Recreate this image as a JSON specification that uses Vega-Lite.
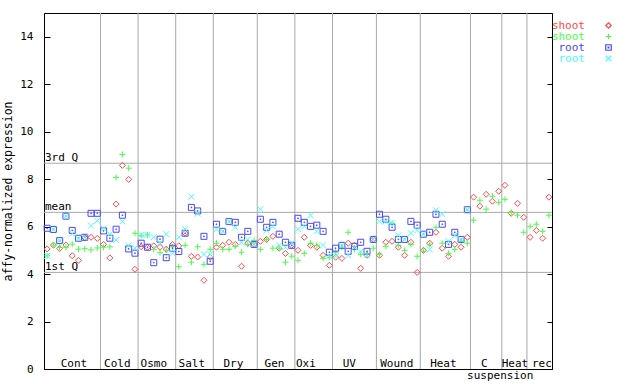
{
  "$schema": "https://vega.github.io/schema/vega-lite/v6.json",
  "width": 508,
  "height": 356,
  "autosize": {"type": "none"},
  "padding": {"left": 44, "top": 13, "right": 88, "bottom": 15},
  "background": "white",
  "config": {
    "view": {"stroke": "black", "strokeWidth": 1},
    "font": "DejaVu Sans Mono",
    "axis": {"grid": false, "domainColor": "black", "tickColor": "black", "labelColor": "black", "titleColor": "black", "labelFont": "DejaVu Sans Mono", "titleFont": "DejaVu Sans Mono", "labelFontSize": 11, "titleFontSize": 11.5, "titleFontWeight": "normal", "labelFlush": false, "labelOverlap": false}
  },
  "datasets": {
    "bounds": [{"b": 8.5}, {"b": 14.5}, {"b": 20.5}, {"b": 26.5}, {"b": 33.5}, {"b": 39.5}, {"b": 45.5}, {"b": 52.5}, {"b": 59.5}, {"b": 67.5}, {"b": 72.5}, {"b": 76.5}],
    "refs": [{"t": "3rd Q", "v": 8.67}, {"t": "mean", "v": 6.6}, {"t": "1st Q", "v": 4.07}],
    "groups": [
      {"t": "Cont", "p": 4.28, "l": 1}, {"t": "Cold", "p": 11.19, "l": 1}, {"t": "Osmo", "p": 17.01, "l": 1},
      {"t": "Salt", "p": 23.06, "l": 1}, {"t": "Dry", "p": 29.69, "l": 1}, {"t": "Gen", "p": 36.26, "l": 1},
      {"t": "Oxi", "p": 41.25, "l": 1}, {"t": "UV", "p": 48.18, "l": 1}, {"t": "Wound", "p": 55.75, "l": 1},
      {"t": "Heat", "p": 63.18, "l": 1}, {"t": "C", "p": 69.71, "l": 1}, {"t": "suspension", "p": 72.23, "l": 2},
      {"t": "Heat", "p": 74.59, "l": 1}, {"t": "rec", "p": 78.88, "l": 1}
    ],
    "pts": [
      {"c":0,"s":"shoot1","v":5.06},{"c":1,"s":"shoot1","v":5.22},{"c":2,"s":"shoot1","v":5.08},{"c":3,"s":"shoot1","v":5.22},{"c":4,"s":"shoot1","v":4.77},{"c":5,"s":"shoot1","v":4.58},{"c":6,"s":"shoot1","v":5.53},{"c":7,"s":"shoot1","v":5.55},{"c":8,"s":"shoot1","v":5.5},
      {"c":9,"s":"shoot1","v":5.25},{"c":10,"s":"shoot1","v":4.68},{"c":11,"s":"shoot1","v":6.95},{"c":12,"s":"shoot1","v":8.58},{"c":13,"s":"shoot1","v":7.99},{"c":14,"s":"shoot1","v":4.2},
      {"c":15,"s":"shoot1","v":5.15},{"c":16,"s":"shoot1","v":5.13},{"c":17,"s":"shoot1","v":5.19},{"c":18,"s":"shoot1","v":5.13},{"c":19,"s":"shoot1","v":5.05},{"c":20,"s":"shoot1","v":5.25},
      {"c":21,"s":"shoot1","v":5.19},{"c":22,"s":"shoot1","v":5.72},{"c":23,"s":"shoot1","v":4.75},{"c":24,"s":"shoot1","v":4.72},{"c":25,"s":"shoot1","v":3.74},{"c":26,"s":"shoot1","v":4.71},
      {"c":27,"s":"shoot1","v":5.13},{"c":28,"s":"shoot1","v":5.21},{"c":29,"s":"shoot1","v":5.34},{"c":30,"s":"shoot1","v":5.25},{"c":31,"s":"shoot1","v":4.33},{"c":32,"s":"shoot1","v":5.3},{"c":33,"s":"shoot1","v":5.25},
      {"c":34,"s":"shoot1","v":5.38},{"c":35,"s":"shoot1","v":5.46},{"c":36,"s":"shoot1","v":5.59},{"c":37,"s":"shoot1","v":5.09},{"c":38,"s":"shoot1","v":4.87},{"c":39,"s":"shoot1","v":5.21},
      {"c":40,"s":"shoot1","v":5.0},{"c":41,"s":"shoot1","v":5.55},{"c":42,"s":"shoot1","v":5.21},{"c":43,"s":"shoot1","v":5.13},{"c":44,"s":"shoot1","v":4.79},{"c":45,"s":"shoot1","v":4.37},
      {"c":46,"s":"shoot1","v":4.71},{"c":47,"s":"shoot1","v":4.66},{"c":48,"s":"shoot1","v":5.3},{"c":49,"s":"shoot1","v":5.21},{"c":50,"s":"shoot1","v":4.24},{"c":51,"s":"shoot1","v":4.79},{"c":52,"s":"shoot1","v":5.46},
      {"c":53,"s":"shoot1","v":4.79},{"c":54,"s":"shoot1","v":5.34},{"c":55,"s":"shoot1","v":5.38},{"c":56,"s":"shoot1","v":5.13},{"c":57,"s":"shoot1","v":4.79},{"c":58,"s":"shoot1","v":5.34},{"c":59,"s":"shoot1","v":4.07},
      {"c":60,"s":"shoot1","v":5.0},{"c":61,"s":"shoot1","v":5.3},{"c":62,"s":"shoot1","v":5.76},{"c":63,"s":"shoot1","v":5.09},{"c":64,"s":"shoot1","v":4.75},{"c":65,"s":"shoot1","v":5.25},{"c":66,"s":"shoot1","v":5.13},{"c":67,"s":"shoot1","v":5.55},
      {"c":68,"s":"shoot1","v":7.24},{"c":69,"s":"shoot1","v":6.86},{"c":70,"s":"shoot1","v":7.36},{"c":71,"s":"shoot1","v":7.07},{"c":72,"s":"shoot1","v":7.49},
      {"c":73,"s":"shoot1","v":7.74},{"c":74,"s":"shoot1","v":6.56},{"c":75,"s":"shoot1","v":6.98},{"c":76,"s":"shoot1","v":6.39},
      {"c":77,"s":"shoot1","v":5.55},{"c":78,"s":"shoot1","v":5.84},{"c":79,"s":"shoot1","v":5.51},{"c":80,"s":"shoot1","v":7.24},

      {"c":0,"s":"shoot2","v":4.77},{"c":1,"s":"shoot2","v":5.22},{"c":2,"s":"shoot2","v":5.12},{"c":3,"s":"shoot2","v":5.13},{"c":4,"s":"shoot2","v":5.26},{"c":5,"s":"shoot2","v":5.05},{"c":6,"s":"shoot2","v":5.07},{"c":7,"s":"shoot2","v":5.02},{"c":8,"s":"shoot2","v":5.1},
      {"c":9,"s":"shoot2","v":5.13},{"c":10,"s":"shoot2","v":5.15},{"c":11,"s":"shoot2","v":8.07},{"c":12,"s":"shoot2","v":9.04},{"c":13,"s":"shoot2","v":8.46},{"c":14,"s":"shoot2","v":5.72},
      {"c":15,"s":"shoot2","v":5.62},{"c":16,"s":"shoot2","v":5.65},{"c":17,"s":"shoot2","v":5.04},{"c":18,"s":"shoot2","v":4.9},{"c":19,"s":"shoot2","v":5.01},{"c":20,"s":"shoot2","v":5.15},
      {"c":21,"s":"shoot2","v":4.31},{"c":22,"s":"shoot2","v":5.21},{"c":23,"s":"shoot2","v":4.5},{"c":24,"s":"shoot2","v":5.15},{"c":25,"s":"shoot2","v":4.41},{"c":26,"s":"shoot2","v":5.04},
      {"c":27,"s":"shoot2","v":5.3},{"c":28,"s":"shoot2","v":5.04},{"c":29,"s":"shoot2","v":5.04},{"c":30,"s":"shoot2","v":5.17},{"c":31,"s":"shoot2","v":4.92},{"c":32,"s":"shoot2","v":5.25},{"c":33,"s":"shoot2","v":5.42},
      {"c":34,"s":"shoot2","v":5.04},{"c":35,"s":"shoot2","v":5.46},{"c":36,"s":"shoot2","v":5.09},{"c":37,"s":"shoot2","v":5.09},{"c":38,"s":"shoot2","v":4.5},{"c":39,"s":"shoot2","v":4.75},
      {"c":40,"s":"shoot2","v":4.58},{"c":41,"s":"shoot2","v":4.87},{"c":42,"s":"shoot2","v":5.3},{"c":43,"s":"shoot2","v":5.21},{"c":44,"s":"shoot2","v":4.66},{"c":45,"s":"shoot2","v":4.71},
      {"c":46,"s":"shoot2","v":4.92},{"c":47,"s":"shoot2","v":5.13},{"c":48,"s":"shoot2","v":5.76},{"c":49,"s":"shoot2","v":5.04},{"c":50,"s":"shoot2","v":4.83},{"c":51,"s":"shoot2","v":4.83},{"c":52,"s":"shoot2","v":5.09},
      {"c":53,"s":"shoot2","v":4.83},{"c":54,"s":"shoot2","v":5.17},{"c":55,"s":"shoot2","v":6.14},{"c":56,"s":"shoot2","v":5.21},{"c":57,"s":"shoot2","v":5.0},{"c":58,"s":"shoot2","v":5.25},{"c":59,"s":"shoot2","v":4.75},
      {"c":60,"s":"shoot2","v":4.96},{"c":61,"s":"shoot2","v":5.25},{"c":62,"s":"shoot2","v":5.97},{"c":63,"s":"shoot2","v":5.3},{"c":64,"s":"shoot2","v":4.87},{"c":65,"s":"shoot2","v":5.04},{"c":66,"s":"shoot2","v":5.38},{"c":67,"s":"shoot2","v":5.3},
      {"c":68,"s":"shoot2","v":6.27},{"c":69,"s":"shoot2","v":7.11},{"c":70,"s":"shoot2","v":6.73},{"c":71,"s":"shoot2","v":7.28},{"c":72,"s":"shoot2","v":7.02},
      {"c":73,"s":"shoot2","v":7.15},{"c":74,"s":"shoot2","v":6.6},{"c":75,"s":"shoot2","v":6.48},{"c":76,"s":"shoot2","v":5.76},
      {"c":77,"s":"shoot2","v":6.01},{"c":78,"s":"shoot2","v":6.1},{"c":79,"s":"shoot2","v":5.8},{"c":80,"s":"shoot2","v":6.48},

      {"c":0,"s":"root1","v":5.93},{"c":1,"s":"root1","v":5.88},{"c":2,"s":"root1","v":5.41},{"c":3,"s":"root1","v":6.44},{"c":4,"s":"root1","v":5.84},{"c":5,"s":"root1","v":5.51},{"c":6,"s":"root1","v":5.55},{"c":7,"s":"root1","v":6.56},{"c":8,"s":"root1","v":6.56},
      {"c":9,"s":"root1","v":5.82},{"c":10,"s":"root1","v":5.51},{"c":11,"s":"root1","v":5.89},{"c":12,"s":"root1","v":6.48},{"c":13,"s":"root1","v":5.06},{"c":14,"s":"root1","v":4.88},
      {"c":15,"s":"root1","v":5.3},{"c":16,"s":"root1","v":5.13},{"c":17,"s":"root1","v":4.48},{"c":18,"s":"root1","v":5.47},{"c":19,"s":"root1","v":4.69},{"c":20,"s":"root1","v":5.09},
      {"c":21,"s":"root1","v":4.95},{"c":22,"s":"root1","v":5.72},{"c":23,"s":"root1","v":6.81},{"c":24,"s":"root1","v":6.66},{"c":25,"s":"root1","v":5.59},{"c":26,"s":"root1","v":4.54},
      {"c":27,"s":"root1","v":6.1},{"c":28,"s":"root1","v":5.8},{"c":29,"s":"root1","v":6.21},{"c":30,"s":"root1","v":6.18},{"c":31,"s":"root1","v":5.55},{"c":32,"s":"root1","v":5.8},{"c":33,"s":"root1","v":5.25},
      {"c":34,"s":"root1","v":6.31},{"c":35,"s":"root1","v":5.97},{"c":36,"s":"root1","v":6.18},{"c":37,"s":"root1","v":5.68},{"c":38,"s":"root1","v":5.34},{"c":39,"s":"root1","v":5.21},
      {"c":40,"s":"root1","v":6.35},{"c":41,"s":"root1","v":6.18},{"c":42,"s":"root1","v":6.01},{"c":43,"s":"root1","v":6.06},{"c":44,"s":"root1","v":5.8},{"c":45,"s":"root1","v":4.92},
      {"c":46,"s":"root1","v":5.09},{"c":47,"s":"root1","v":5.21},{"c":48,"s":"root1","v":4.96},{"c":49,"s":"root1","v":5.17},{"c":50,"s":"root1","v":5.34},{"c":51,"s":"root1","v":4.96},{"c":52,"s":"root1","v":5.46},
      {"c":53,"s":"root1","v":6.52},{"c":54,"s":"root1","v":6.31},{"c":55,"s":"root1","v":5.97},{"c":56,"s":"root1","v":5.46},{"c":57,"s":"root1","v":5.46},{"c":58,"s":"root1","v":6.22},{"c":59,"s":"root1","v":6.06},
      {"c":60,"s":"root1","v":5.68},{"c":61,"s":"root1","v":5.76},{"c":62,"s":"root1","v":6.52},{"c":63,"s":"root1","v":6.1},{"c":64,"s":"root1","v":5.25},{"c":65,"s":"root1","v":5.76},{"c":66,"s":"root1","v":5.46},{"c":67,"s":"root1","v":6.71},

      {"c":0,"s":"root2","v":4.77},{"c":1,"s":"root2","v":5.88},{"c":2,"s":"root2","v":5.41},{"c":3,"s":"root2","v":6.44},{"c":4,"s":"root2","v":5.7},{"c":5,"s":"root2","v":5.51},{"c":6,"s":"root2","v":5.55},{"c":7,"s":"root2","v":6.04},{"c":8,"s":"root2","v":6.25},
      {"c":9,"s":"root2","v":5.93},{"c":10,"s":"root2","v":5.68},{"c":11,"s":"root2","v":5.44},{"c":12,"s":"root2","v":6.22},{"c":13,"s":"root2","v":5.21},{"c":14,"s":"root2","v":5.09},
      {"c":15,"s":"root2","v":5.65},{"c":16,"s":"root2","v":5.65},{"c":17,"s":"root2","v":5.55},{"c":18,"s":"root2","v":5.3},{"c":19,"s":"root2","v":5.68},{"c":20,"s":"root2","v":4.88},
      {"c":21,"s":"root2","v":5.55},{"c":22,"s":"root2","v":5.89},{"c":23,"s":"root2","v":7.26},{"c":24,"s":"root2","v":6.55},{"c":25,"s":"root2","v":4.83},{"c":26,"s":"root2","v":4.83},
      {"c":27,"s":"root2","v":5.89},{"c":28,"s":"root2","v":5.8},{"c":29,"s":"root2","v":6.21},{"c":30,"s":"root2","v":5.97},{"c":31,"s":"root2","v":5.34},{"c":32,"s":"root2","v":5.46},{"c":33,"s":"root2","v":5.25},
      {"c":34,"s":"root2","v":6.73},{"c":35,"s":"root2","v":5.84},{"c":36,"s":"root2","v":6.01},{"c":37,"s":"root2","v":5.21},{"c":38,"s":"root2","v":5.13},{"c":39,"s":"root2","v":5.3},
      {"c":40,"s":"root2","v":5.89},{"c":41,"s":"root2","v":6.01},{"c":42,"s":"root2","v":6.48},{"c":43,"s":"root2","v":5.8},{"c":44,"s":"root2","v":5.21},{"c":45,"s":"root2","v":4.75},
      {"c":46,"s":"root2","v":4.75},{"c":47,"s":"root2","v":5.21},{"c":48,"s":"root2","v":4.79},{"c":49,"s":"root2","v":5.13},{"c":50,"s":"root2","v":4.96},{"c":51,"s":"root2","v":4.79},{"c":52,"s":"root2","v":5.46},
      {"c":53,"s":"root2","v":6.22},{"c":54,"s":"root2","v":6.22},{"c":55,"s":"root2","v":6.14},{"c":56,"s":"root2","v":5.63},{"c":57,"s":"root2","v":5.46},{"c":58,"s":"root2","v":5.72},{"c":59,"s":"root2","v":5.84},
      {"c":60,"s":"root2","v":5.68},{"c":61,"s":"root2","v":5.04},{"c":62,"s":"root2","v":6.69},{"c":63,"s":"root2","v":6.52},{"c":64,"s":"root2","v":5.38},{"c":65,"s":"root2","v":5.63},{"c":66,"s":"root2","v":5.46},{"c":67,"s":"root2","v":6.71}
    ]
  },
  "layer": [
    {
      "data": {"name": "bounds"},
      "mark": {"type": "rule", "color": "#a8a8a8", "strokeWidth": 1},
      "encoding": {
        "x": {"field": "b", "type": "quantitative", "scale": {"domain": [-0.5, 80.5], "nice": false, "zero": false}, "axis": null}
      }
    },
    {
      "data": {"name": "refs"},
      "mark": {"type": "rule", "color": "#a8a8a8", "strokeWidth": 1},
      "encoding": {
        "y": {"field": "v", "type": "quantitative", "scale": {"domain": [0, 15], "nice": false, "zero": false},
              "axis": {"orient": "right", "values": [0, 2, 4, 6, 8, 10, 12, 14], "tickSize": -5, "labels": false, "title": null}}
      }
    },
    {
      "data": {"name": "refs"},
      "mark": {"type": "text", "align": "left", "baseline": "alphabetic", "dx": 1, "dy": -2, "fontSize": 11, "color": "black"},
      "encoding": {
        "x": {"datum": -0.5, "type": "quantitative", "scale": {"domain": [-0.5, 80.5], "nice": false, "zero": false}},
        "y": {"field": "v", "type": "quantitative", "scale": {"domain": [0, 15], "nice": false, "zero": false}, "axis": null},
        "text": {"field": "t"}
      }
    },
    {
      "data": {"name": "groups"},
      "transform": [{"filter": "datum.l == 1"}],
      "mark": {"type": "text", "align": "center", "baseline": "alphabetic", "dy": -2, "fontSize": 11, "color": "black"},
      "encoding": {
        "x": {"field": "p", "type": "quantitative", "scale": {"domain": [-0.5, 80.5], "nice": false, "zero": false}},
        "y": {"datum": 0, "type": "quantitative", "scale": {"domain": [0, 15], "nice": false, "zero": false}, "axis": null},
        "text": {"field": "t"}
      }
    },
    {
      "data": {"name": "groups"},
      "transform": [{"filter": "datum.l == 2"}],
      "mark": {"type": "text", "align": "center", "baseline": "alphabetic", "dy": 10, "fontSize": 11, "color": "black"},
      "encoding": {
        "x": {"field": "p", "type": "quantitative", "scale": {"domain": [-0.5, 80.5], "nice": false, "zero": false}},
        "y": {"datum": 0, "type": "quantitative", "scale": {"domain": [0, 15], "nice": false, "zero": false}, "axis": null},
        "text": {"field": "t"}
      }
    },
    {
      "data": {"name": "pts"},
      "mark": {"type": "point", "filled": false, "strokeWidth": 1, "opacity": 1, "size": 36},
      "encoding": {
        "x": {"field": "c", "type": "quantitative", "scale": {"domain": [-0.5, 80.5], "nice": false, "zero": false}},
        "y": {"field": "v", "type": "quantitative", "scale": {"domain": [0, 15], "nice": false, "zero": false},
              "axis": {"orient": "left", "values": [0, 2, 4, 6, 8, 10, 12, 14], "tickSize": -6, "labelPadding": 17, "title": "affy-normalized expression", "titlePadding": 6}},
        "color": {"field": "s", "type": "nominal",
                  "scale": {"domain": ["shoot1", "shoot2", "root1", "root2"], "range": ["#ff4848", "#48ff48", "#4848ff", "#48ffff"]},
                  "legend": {"title": null, "orient": "none", "legendX": 559, "legendY": 7, "padding": 0, "rowPadding": -1.3, "symbolSize": 30, "symbolStrokeWidth": 1.2, "labelFont": "DejaVu Sans Mono", "labelFontSize": 11, "labelAlign": "right", "labelOffset": -29, "labelExpr": "indexof(datum.label, 'shoot') >= 0 ? 'shoot' : 'root'", "labelColor": {"expr": "datum.value == 'shoot1' ? '#ff4848' : datum.value == 'shoot2' ? '#48ff48' : datum.value == 'root1' ? '#4848ff' : '#48ffff'"}}},
        "shape": {"field": "s", "type": "nominal",
                  "scale": {"domain": ["shoot1", "shoot2", "root1", "root2"], "range": ["M0,-1L1,0L0,1L-1,0Z", "M-1,0H1M0,-1V1", "M-1,-1H1V1H-1ZM-0.12,-0.12H0.12V0.12H-0.12Z", "M-1,-1L1,1M-1,1L1,-1"]},
                  "legend": {"title": null, "orient": "none", "legendX": 559, "legendY": 7, "padding": 0, "rowPadding": -1.3, "symbolSize": 30, "symbolStrokeWidth": 1.2, "labelFont": "DejaVu Sans Mono", "labelFontSize": 11, "labelAlign": "right", "labelOffset": -29, "labelExpr": "indexof(datum.label, 'shoot') >= 0 ? 'shoot' : 'root'", "labelColor": {"expr": "datum.value == 'shoot1' ? '#ff4848' : datum.value == 'shoot2' ? '#48ff48' : datum.value == 'root1' ? '#4848ff' : '#48ffff'"}}}
      }
    }
  ],
  "resolve": {"axis": {"y": "independent"}}
}
